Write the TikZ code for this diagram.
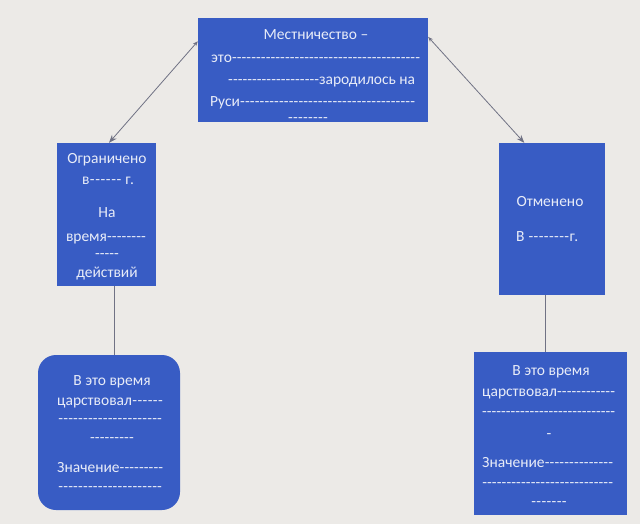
\documentclass[tikz,border=0pt]{standalone}
\usepackage{fontspec}
\setmainfont{Carlito}
\usetikzlibrary{arrows.meta}
\definecolor{boxblue}{RGB}{56,92,196}
\definecolor{bgc}{RGB}{236,234,231}
\definecolor{arrc}{RGB}{112,114,132}
\definecolor{txtc}{RGB}{232,236,248}
\newcommand\mfill[3]{\makebox[#1][l]{#2\xleaders\hbox{-}\hfill#3}}
\begin{document}
\begin{tikzpicture}[x=1pt,y=-1pt,
  box/.style={fill=boxblue, draw=none, inner sep=0pt},
  txt/.style={text=txtc, font=\fontsize{15.5}{17}\selectfont, inner sep=0pt, anchor=base},
  txtw/.style={txt, anchor=base west},
  conn/.style={draw=arrc, line width=0.8pt},
]
\fill[bgc] (0,0) rectangle (640,524);
\useasboundingbox (0,0) rectangle (640,524);

% boxes
\node[box, minimum width=230pt, minimum height=104pt] (top) at (313,70) {};
\node[box, minimum width=99pt, minimum height=143pt] (left) at (106.5,214.5) {};
\node[box, minimum width=106pt, minimum height=152pt] (right) at (552,219) {};
\node[box, rounded corners=18pt, minimum width=142pt, minimum height=155pt] (bl) at (109,432.5) {};
\node[box, minimum width=153pt, minimum height=163pt] (br) at (550.5,433.5) {};

% connectors
\draw[conn, {Stealth[length=5pt,width=4pt]}-{Stealth[length=8pt,width=6pt]}] (top.166) -- (left.88);
\draw[conn, {Stealth[length=5pt,width=4pt]}-{Stealth[length=8pt,width=6pt]}] (top.16) -- (right.110);
\draw[conn] ([xshift=7.5pt]left.south) -- ([xshift=5pt]bl.north);
\draw[conn] ([xshift=-7pt]right.south) -- ([xshift=-5.5pt]br.north);

% top box text
\node[txt] (t1) at (316,40) {Местничество –};
\node[txtw] (t2) at (211,63) {\mfill{209pt}{это}{}};
\node[txtw] (t3) at (228,85) {\mfill{187pt}{}{зародилось на}};
\node[txtw] (t4) at (210,107) {\mfill{205pt}{Руси}{}};
\node[txt] (t5) at (308,122.5) {\mfill{40pt}{}{}};

% left box text
\node[txt] (l1) at (107,164) {Ограничено};
\node[txt] (l2) at (108,185) {\mfill{52pt}{в}{ г.}};
\node[txt] (l3) at (107,217) {На};
\node[txt] (l4) at (106,241) {\mfill{80pt}{время}{}};
\node[txt] (l5) at (107,258) {\mfill{24pt}{}{}};
\node[txt] (l6) at (107,277) {действий};

% right box text
\node[txt] (r1) at (550,206) {Отменено};
\node[txtw] (r2) at (516,241) {\mfill{62pt}{В }{г.}};

% bottom left text
\node[txt] (b1) at (112,385) {В это время};
\node[txtw] (b2) at (57,405) {\mfill{106pt}{царствовал}{}};
\node[txtw] (b3) at (58,423) {\mfill{104pt}{}{}};
\node[txt] (b4) at (112,442) {\mfill{44pt}{}{}};
\node[txtw] (b5) at (57,472) {\mfill{106pt}{Значение}{}};
\node[txtw] (b6) at (58,491) {\mfill{104pt}{}{}};

% bottom right text
\node[txt] (c1) at (551,375) {В это время};
\node[txtw] (c2) at (482,396) {\mfill{133pt}{царствовал}{}};
\node[txtw] (c3) at (482,416) {\mfill{133pt}{}{}};
\node[txt] (c4) at (549,438) {-};
\node[txtw] (c5) at (482,467) {\mfill{131pt}{Значение}{}};
\node[txtw] (c6) at (482,487) {\mfill{131pt}{}{}};
\node[txt] (c7) at (549,506) {\mfill{36pt}{}{}};
\end{tikzpicture}
\end{document}
